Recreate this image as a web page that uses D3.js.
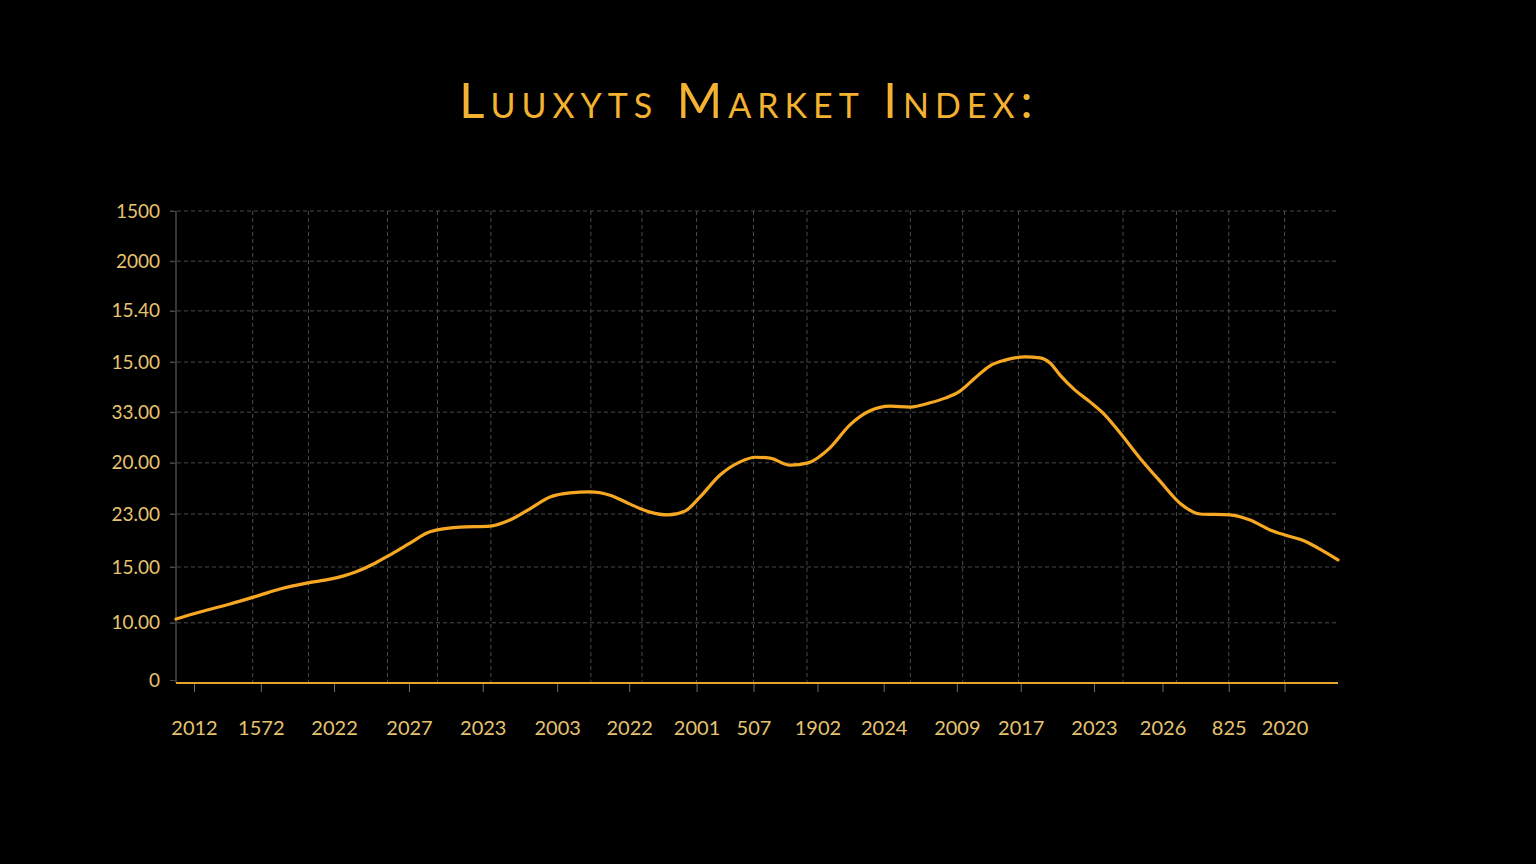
<!DOCTYPE html>
<html>
<head>
<meta charset="utf-8">
<script src="https://cdn.jsdelivr.net/npm/d3@7"></script>
<style>
  html, body { margin: 0; padding: 0; background: #000; }
  svg { display: block; }
</style>
</head>
<body>
<script>
var width = 1536,
    height = 864;

// y ticks (index units) and their printed labels
var yTickVals = [0, 12.2, 24.1, 35.4, 46.3, 57.1, 67.8, 78.7, 89.3, 100];
var yTickLabels = ['0', '10.00', '15.00', '23.00', '20.00', '33.00', '15.00', '15.40', '2000', '1500'];

// x ticks and labels
var xTickVals = [1.55, 7.3, 13.6, 20.05, 26.4, 32.8, 39.0, 44.8, 49.7, 55.2, 60.9, 67.2, 72.7, 79.0, 84.9, 90.6, 95.4];
var xTickLabels = ['2012', '1572', '2022', '2027', '2023', '2003', '2022', '2001', '507', '1902',
                   '2024', '2009', '2017', '2023', '2026', '825', '2020'];

// vertical grid lines
var xGridVals = [6.6, 11.4, 18.2, 22.5, 27.1, 35.7, 40.1, 44.8, 49.7, 54.3, 63.2, 67.7, 72.5, 81.5, 86.1, 90.6, 95.4];

// index series
var seriesX = [0, 2.07, 4.65, 7.23, 8.95, 11.36, 13.25, 15.4, 17.13, 18.42, 20.14, 21.86, 24.44, 27.02,
               28.74, 30.46, 32.19, 33.91, 35.63, 37.35, 39.07, 40.79, 42.34, 43.8, 45.09, 46.82, 48.54,
               49.83, 51.12, 52.84, 54.39, 56.28, 58.0, 59.72, 61.45, 63.17, 64.89, 66.18, 67.47, 68.76,
               70.05, 71.34, 73.06, 74.35, 75.22, 76.08, 77.37, 78.66, 79.95, 81.24, 82.96, 84.68, 86.4,
               88.12, 90.71, 92.43, 94.15, 95.44, 97.16, 98.45, 100];
var seriesY = [13.0, 14.5, 16.2, 18.1, 19.4, 20.7, 21.5, 23.0, 24.9, 26.7, 29.2, 31.6, 32.6, 32.8,
               34.1, 36.5, 39.0, 39.9, 40.1, 39.4, 37.5, 35.8, 35.2, 36.0, 39.0, 43.7, 46.5,
               47.5, 47.3, 45.8, 46.3, 49.5, 54.4, 57.4, 58.4, 58.2, 59.1, 60.1, 61.6, 64.4,
               67.0, 68.2, 68.9, 68.7, 67.6, 65.0, 61.8, 59.3, 56.5, 52.7, 47.3, 42.4, 37.7,
               35.4, 35.2, 34.1, 32.0, 30.9, 29.6, 27.9, 25.6];

var margin = {left: 176, right: 1536 - 1338, top: 211, bottom: 864 - 680};

var svg = d3.select('body')
    .append('svg')
    .attr('width', width)
    .attr('height', height)
    .style('background', '#000');

var x = d3.scaleLinear().domain([0, 100]).range([margin.left, width - margin.right]);
var y = d3.scaleLinear().domain([0, 100]).range([height - margin.bottom, margin.top]);

var labelColor = '#e6c370',
    lineColor = '#f6a823',
    gridColor = '#4a4a4a',
    font = 'Lato, "Open Sans", sans-serif';

// title
svg.append('text')
    .attr('x', 749)
    .attr('y', 118)
    .attr('text-anchor', 'middle')
    .attr('fill', '#f3b230')
    .style('font-family', font)
    .style('font-size', '49px')
    .style('font-variant', 'small-caps')
    .style('letter-spacing', '6px')
    .text('Luuxyts Market Index:');

// horizontal grid
svg.append('g')
    .selectAll('line')
    .data(yTickVals.slice(1))
    .enter()
    .append('line')
    .attr('x1', x(0) - 6)
    .attr('x2', x(100))
    .attr('y1', d => y(d))
    .attr('y2', d => y(d))
    .attr('stroke', gridColor)
    .attr('stroke-width', 1)
    .attr('stroke-dasharray', '4,3');

// vertical grid
svg.append('g')
    .selectAll('line')
    .data(xGridVals)
    .enter()
    .append('line')
    .attr('x1', d => x(d))
    .attr('x2', d => x(d))
    .attr('y1', y(100))
    .attr('y2', y(0) + 3)
    .attr('stroke', gridColor)
    .attr('stroke-width', 1)
    .attr('stroke-dasharray', '4,3');

// y axis
var yAxis = d3.axisLeft(y)
    .tickValues(yTickVals)
    .tickFormat((d, i) => yTickLabels[i])
    .tickSize(6)
    .tickPadding(10);

var gy = svg.append('g')
    .attr('transform', 'translate(' + x(0) + ',0)')
    .call(yAxis);
gy.select('.domain')
    .attr('d', 'M0,' + y(100) + 'V' + (y(0) + 3))
    .attr('stroke', '#6e6e6e');
gy.selectAll('.tick line').attr('stroke', gridColor);
gy.selectAll('.tick text')
    .attr('fill', labelColor)
    .style('font-family', font)
    .style('font-size', '19px');

// x axis
var xAxis = d3.axisBottom(x)
    .tickValues(xTickVals)
    .tickFormat((d, i) => xTickLabels[i])
    .tickSize(9)
    .tickPadding(29);

var gx = svg.append('g')
    .attr('transform', 'translate(0,' + (y(0) + 3) + ')')
    .call(xAxis);
gx.select('.domain').remove();
gx.selectAll('.tick line').attr('stroke', '#6e6e6e');
gx.selectAll('.tick text')
    .attr('fill', labelColor)
    .style('font-family', font)
    .style('font-size', '20px');

svg.append('line')
    .attr('x1', x(0))
    .attr('x2', x(100))
    .attr('y1', y(0) + 3)
    .attr('y2', y(0) + 3)
    .attr('stroke', '#e3a427')
    .attr('stroke-width', 2);

// series
var line = d3.line()
    .x(d => x(d[0]))
    .y(d => y(d[1]))
    .curve(d3.curveMonotoneX);

svg.append('path')
    .datum(d3.zip(seriesX, seriesY))
    .attr('d', line)
    .attr('fill', 'none')
    .attr('stroke', lineColor)
    .attr('stroke-width', 3.2)
    .attr('stroke-linejoin', 'round')
    .attr('stroke-linecap', 'round');
</script>
</body>
</html>
